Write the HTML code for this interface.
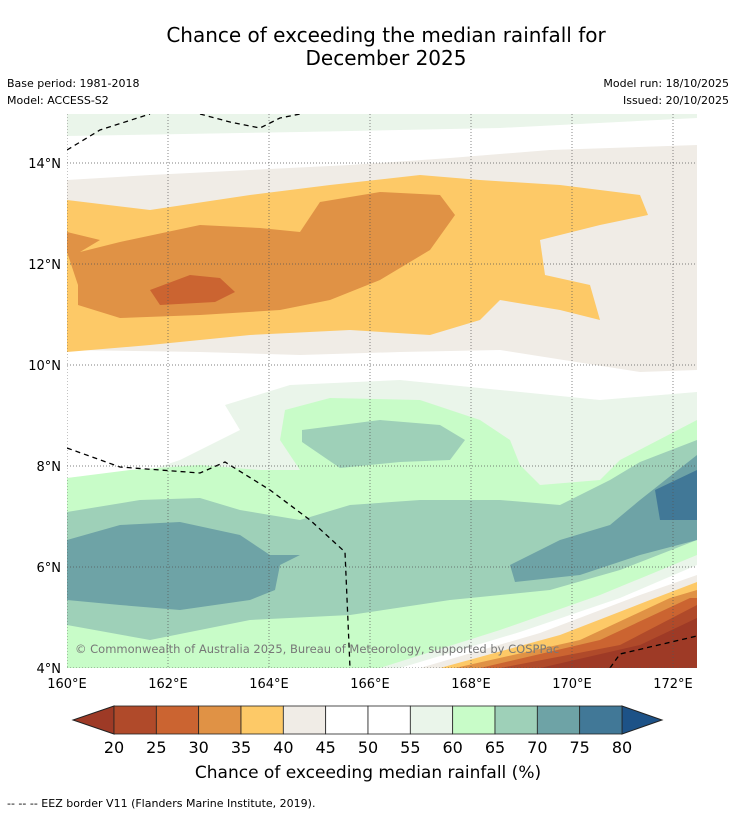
<!DOCTYPE html>
<html><head><meta charset="utf-8"><style>
body{margin:0;background:#fff;width:736px;height:816px;overflow:hidden;font-family:"DejaVu Sans",sans-serif}
text{font-family:"DejaVu Sans",sans-serif}
</style></head><body>
<svg id="s" width="736" height="816">
<rect width="736" height="816" fill="#fff"/>
<text x="386" y="42" font-size="20" text-anchor="middle">Chance of exceeding the median rainfall for</text>
<text x="386" y="65" font-size="20" text-anchor="middle">December 2025</text>
<text x="7" y="87" font-size="11">Base period: 1981-2018</text>
<text x="7" y="104" font-size="11">Model: ACCESS-S2</text>
<text x="729" y="87" font-size="11" text-anchor="end">Model run: 18/10/2025</text>
<text x="729" y="104" font-size="11" text-anchor="end">Issued: 20/10/2025</text>
<defs><clipPath id="mc"><rect x="67" y="114" width="630" height="554"/></clipPath></defs>
<g clip-path="url(#mc)">
<rect x="67" y="114" width="630" height="554" fill="#fff"/>
<path fill="#eaf5ea" d="M67,114H697V118L500,128L300,132L67,136Z"/>
<path fill="#f0ece6" d="M67,180L150,175L250,170L350,165L450,158L550,150L697,145L697,370L640,372L500,350L400,352L300,355L200,352L67,350Z"/>
<path fill="#fdc967" d="M67,200L150,210L250,195L330,185L420,175L480,180L560,185L640,195L648,215L600,225L540,240L545,275L590,285L600,320L560,310L500,300L480,320L430,335L350,330L250,335L150,345L67,352Z"/>
<path fill="#e09245" d="M67,232L100,240L80,252L120,242L200,225L260,228L300,232L320,202L380,192L440,195L455,215L430,250L380,280L330,300L280,310L200,315L120,318L78,305L78,285L67,252Z"/>
<path fill="#cb6431" d="M150,290L190,275L220,278L235,292L215,302L160,305Z"/>
<path fill="#eaf5ea" d="M67,490L120,480L180,460L240,430L225,405L290,385L400,380L500,390L600,400L697,392V668H67Z"/>
<path fill="#c8fcc8" d="M67,478L130,470L200,465L260,470L300,470L280,440L285,410L330,398L420,400L480,420L510,440L520,465L540,485L600,480L620,460L697,420V668H67Z"/>
<path fill="#9ed0b8" d="M67,512L140,500L200,498L240,510L300,520L350,505L420,500L500,500L560,505L610,480L640,462L697,440V540L620,570L550,590L450,600L350,615L250,620L150,640L67,625Z"/>
<path fill="#9ed0b8" d="M302,430L380,420L440,425L465,440L450,460L400,462L340,468L302,442Z"/>
<path fill="#6ea3a6" d="M67,540L120,525L180,522L240,535L270,555L300,555L280,565L275,590L250,600L180,610L120,605L67,600Z"/>
<path fill="#6ea3a6" d="M510,565L560,540L610,525L640,500L697,455V540L640,555L580,575L515,582Z"/>
<path fill="#417897" d="M655,490L697,470V520L660,520Z"/>
<path fill="#eaf5ea" d="M380,668L500,630L600,595L697,555V668Z"/>
<path fill="#ffffff" d="M400,668L520,632L620,598L697,565V668Z"/>
<path fill="#f0ece6" d="M420,668L540,633L640,595L697,575V668Z"/>
<path fill="#fdc967" d="M440,668L560,635L650,600L697,582V668Z"/>
<path fill="#e09245" d="M455,668L580,640L670,598L697,590V668Z"/>
<path fill="#cb6431" d="M480,668L600,640L690,598L697,598V668Z"/>
<path fill="#b04a2a" d="M500,668L620,645L697,605V668Z"/>
<path fill="#9e3a26" d="M540,668L640,645L697,618V668Z"/>
<g fill="none" stroke="#000" stroke-width="1.3" stroke-dasharray="5,4">
<path d="M67,150L100,130L150,114M200,114L230,122L260,128L280,118L300,114"/>
<path d="M67,448L120,467L200,473L225,462L270,490L310,520L345,552L350,668"/>
<path d="M610,668L620,654L697,636"/>
</g>
<g id="grid" stroke="#555" stroke-width="0.7" stroke-dasharray="1,2"></g>
<text x="75" y="653" font-size="11.5" fill="#777">© Commonwealth of Australia 2025, Bureau of Meteorology, supported by COSPPac</text>
</g>
<g id="ticks" font-size="13"></g>
<g id="cbar"></g>
<text x="368" y="778" font-size="17" text-anchor="middle">Chance of exceeding median rainfall (%)</text>
<text x="7" y="807" font-size="11">--  --  -- EEZ border V11 (Flanders Marine Institute, 2019).</text>
</svg>
<script>
const lonTicks=[160,162,164,166,168,170,172];
const latTicks=[4,6,8,10,12,14];
const cbLevels=[20,25,30,35,40,45,50,55,60,65,70,75,80];
const cbColors=["#b04a2a","#cb6431","#e09245","#fdc967","#f0ece6","#ffffff","#ffffff","#eaf5ea","#c8fcc8","#9ed0b8","#6ea3a6","#417897"];
const NS="http://www.w3.org/2000/svg";
const xL=l=>67+(l-160)*50.5, yL=l=>668-(l-4)*50.5;
function mk(t,a,p){const e=document.createElementNS(NS,t);for(const k in a)e.setAttribute(k,a[k]);p.appendChild(e);return e;}
const g=document.getElementById('grid'),tk=document.getElementById('ticks');
lonTicks.forEach(l=>{const ln=mk('line',{x1:xL(l),x2:xL(l),y1:114,y2:668},g);


const t=mk('text',{x:xL(l),y:688,'text-anchor':'middle'},tk);t.textContent=l+'°E';

});
latTicks.forEach(l=>{const ln=mk('line',{x1:67,x2:697,y1:yL(l),y2:yL(l)},g);


const t=mk('text',{x:61,y:yL(l)+5,'text-anchor':'end'},tk);t.textContent=l+'°N';

});
const cb=document.getElementById('cbar');const x0=114,w=(622-114)/cbColors.length;
const la=mk('path',{d:`M${x0},706L73,720L${x0},734Z`,fill:'#9e3a26',stroke:'#222'},cb);


const ra=mk('path',{d:`M622,706L662,720L622,734Z`,fill:'#1d5287',stroke:'#222'},cb);


cbColors.forEach((c,i)=>{const r=mk('rect',{x:x0+i*w,y:706,width:w,height:28,fill:c,stroke:'#222','stroke-width':0.8},cb);

});
cbLevels.forEach((v,i)=>{const t=mk('text',{x:x0+i*w,y:753,'font-size':16,'text-anchor':'middle'},cb);t.textContent=v;

});
</script>
</body></html>
